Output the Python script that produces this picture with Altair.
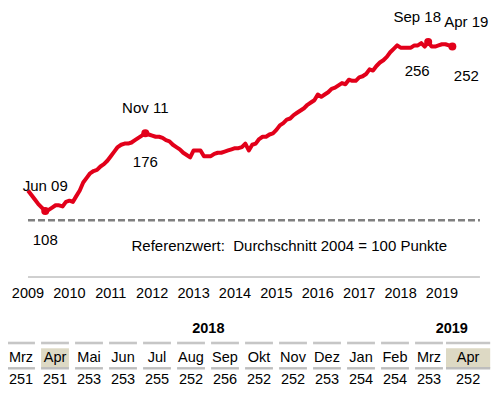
import altair as alt
import pandas as pd

# ---------------- data ----------------
series_start_year = 2009
index_values = [
    126, 122, 118, 114, 111, 108, 109, 111, 113, 113, 112, 116,  # 2009
    117, 116, 121, 126, 133, 137, 141, 143, 144, 147, 149, 152,  # 2010
    156, 160, 164, 166, 167, 167, 168, 170, 172, 174, 176, 175,  # 2011
    174, 173, 173, 172, 170, 169, 166, 164, 162, 159, 157, 155,  # 2012
    161, 161, 161, 156, 156, 156, 158, 159, 159, 160, 161, 162,  # 2013
    163, 163, 164, 167, 161, 166, 167, 171, 173, 173, 175, 176,  # 2014
    179, 183, 185, 188, 189, 192, 194, 196, 198, 201, 203, 205,  # 2015
    210, 208, 210, 212, 215, 216, 218, 220, 219, 223, 222, 222,  # 2016
    225, 226, 228, 232, 231, 235, 238, 240, 243, 247, 250, 253,  # 2017
    251, 251, 251, 251, 253, 253, 255, 252, 256, 252, 252, 253,  # 2018
    254, 254, 253, 252,                                          # 2019
]
annot_months = ["2009-06", "2011-11", "2018-09", "2019-04"]
annot_labels = ["Jun 09", "Nov 11", "Sep 18", "Apr 19"]
year_ticks = list(range(2009, 2020))
reference_value = 100
reference_text = "Referenzwert:\u00a0 Durchschnitt 2004 = 100 Punkte"

table_months = ["Mrz", "Apr", "Mai", "Jun", "Jul", "Aug", "Sep",
                "Okt", "Nov", "Dez", "Jan", "Feb", "Mrz", "Apr"]
table_values = [251, 251, 253, 253, 255, 252, 256, 252, 252, 253, 254, 254, 253, 252]
table_years = ["2018", "2019"]
highlight_month = "Apr"

# ---------------- styling ----------------
RED = "#E2001A"
FONT = "Liberation Sans"


def month_idx(s):
    y, mo = s.split("-")
    return (int(y) - series_start_year) * 12 + int(mo) - 1


line_df = pd.DataFrame({"m": list(range(len(index_values))), "v": index_values})
ann_df = pd.DataFrame({"m": [month_idx(s) for s in annot_months], "label": annot_labels})
ann_df["v"] = [index_values[m] for m in ann_df["m"]]
ann_df["vtxt"] = ann_df["v"].astype(str)
ref_df = pd.DataFrame({"m0": [0], "m1": [(year_ticks[-1] - series_start_year) * 12 + 11],
                       "v": [reference_value]})
years_df = pd.DataFrame({"m": [(y - series_start_year) * 12 for y in year_ticks],
                         "year": [str(y) for y in year_ticks]})

xs = alt.Scale(domain=[-5.797, 134.493], nice=False, zero=False)
ys = alt.Scale(domain=[-46.12, 285.76], nice=False, zero=False)

hidden_axis = alt.Axis(labels=False, ticks=False, domain=False, grid=False, title=None)

line = alt.Chart(line_df).mark_line(color=RED, strokeWidth=4, strokeJoin="round").encode(
    x=alt.X("m:Q", scale=xs, axis=hidden_axis),
    y=alt.Y("v:Q", scale=ys, axis=None),
)

dashed = alt.Chart(ref_df).mark_rule(color="#808080", strokeWidth=2.5, strokeDash=[7, 3]).encode(
    x=alt.X("m0:Q", scale=xs, axis=None), x2="m1:Q", y=alt.Y("v:Q", scale=ys, axis=None)
)
base_rule = alt.Chart(ref_df).mark_rule(color="#a0a0a0", strokeWidth=1).encode(
    x=alt.X("m0:Q", scale=xs, axis=None), x2="m1:Q", y=alt.value(269)
)
year_labels = alt.Chart(years_df).mark_text(
    baseline="middle", fontSize=14.5, font=FONT, color="#000"
).encode(x=alt.X("m:Q", scale=xs, axis=None), y=alt.value(286), text="year:N")
ref_label = alt.Chart(ref_df).mark_text(
    align="left", baseline="middle", dy=26, fontSize=15, font=FONT, color="#000"
).encode(x=alt.datum(30, scale=xs), y=alt.Y("v:Q", scale=ys, axis=None), text=alt.value(reference_text))

points = alt.Chart(ann_df).mark_circle(size=64, color=RED, opacity=1).encode(
    x=alt.X("m:Q", scale=xs, axis=None), y=alt.Y("v:Q", scale=ys, axis=None)
)

label_layers = []
for names, dx in [(["Jun 09", "Nov 11"], 0), (["Sep 18"], -11), (["Apr 19"], 14)]:
    for field, dy in [("label", -25), ("vtxt", 29)]:
        label_layers.append(
            alt.Chart(ann_df)
            .transform_filter(alt.FieldOneOfPredicate(field="label", oneOf=names))
            .mark_text(dx=dx, dy=dy, fontSize=15, font=FONT, color="#000", baseline="middle")
            .encode(x=alt.X("m:Q", scale=xs, axis=None), y=alt.Y("v:Q", scale=ys, axis=None),
                    text=f"{field}:N")
        )

line_group = alt.layer(line, dashed, base_rule, year_labels, ref_label, points, *label_layers)

# ---------------- table ----------------
tbl = pd.DataFrame({"month": table_months, "value": [str(v) for v in table_values]})
n_cols = len(tbl)
tbl["c"] = [i + (0.15 if i == n_cols - 1 else 0) for i in range(n_cols)]
half = [0.65 if i == n_cols - 1 else 0.41 for i in range(n_cols)]
tbl["c0"] = tbl["c"] - half
tbl["c1"] = tbl["c"] + half
hl = tbl[tbl["month"] == highlight_month]
hdr_df = pd.DataFrame({"year": table_years, "c": [5.51, 12.67]})

xt = alt.Scale(domain=[-0.38235, 13.853], nice=False, zero=False)

boxes = alt.Chart(hl).mark_rect(color="#ddd9c4").encode(
    x=alt.X("c0:Q", scale=xt, axis=None), x2="c1:Q", y=alt.value(340.3), y2=alt.value(360.3)
)
bars_top = alt.Chart(tbl).mark_rule(color="#c6c6c6", strokeWidth=2.6).encode(
    x=alt.X("c0:Q", scale=xt, axis=None), x2="c1:Q", y=alt.value(335)
)
bars_bot = alt.Chart(tbl).mark_rule(color="#bdbdbd", strokeWidth=2.4).encode(
    x=alt.X("c0:Q", scale=xt, axis=None), x2="c1:Q", y=alt.value(360.3)
)
month_txt = alt.Chart(tbl).mark_text(fontSize=14.5, font=FONT, color="#000", baseline="middle").encode(
    x=alt.X("c:Q", scale=xt, axis=None), y=alt.value(349.8), text="month:N"
)
value_txt = alt.Chart(tbl).mark_text(fontSize=14.5, font=FONT, color="#000", baseline="middle").encode(
    x=alt.X("c:Q", scale=xt, axis=None), y=alt.value(371.7), text="value:N"
)
headers = alt.Chart(hdr_df).mark_text(fontSize=14.5, font=FONT, fontWeight="bold", color="#000",
                                      baseline="middle").encode(
    x=alt.X("c:Q", scale=xt, axis=None), y=alt.value(320.8), text="year:N"
)

table_group = alt.layer(boxes, bars_top, bars_bot, month_txt, value_txt, headers)

chart = (
    alt.layer(line_group, table_group)
    .resolve_scale(x="independent", y="independent")
    .properties(width=484, height=379, padding=0, autosize=alt.AutoSizeParams(type="none"),
                background="white")
    .configure_view(stroke=None)
)

chart.save("out.html", embed_options={"renderer": "svg", "actions": False})
